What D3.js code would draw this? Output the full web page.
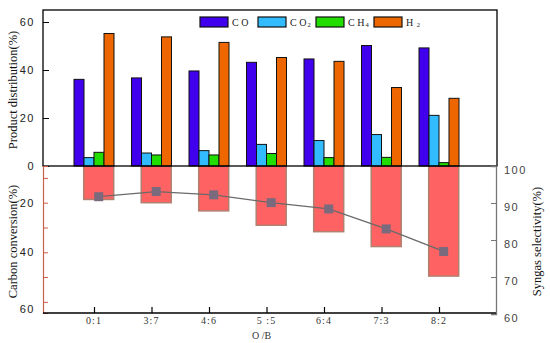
<!DOCTYPE html>
<html>
<head>
<meta charset="utf-8">
<script src="https://cdn.jsdelivr.net/npm/d3@7"></script>
<style>
  body { margin: 0; background: #fff; }
  svg { display: block; font-family: "Liberation Serif", "Times New Roman", serif; }
</style>
</head>
<body>
<svg id="chart" width="550" height="343"></svg>
<script>
// categories (O/B ratio)
const ratios = ["0:1", "3:7", "4:6", "5 :5", "6:4", "7:3", "8:2"];

// product distribution (%)
const coVals  = [36.1, 36.7, 39.6, 43.2, 44.6, 50.2, 49.2];
const co2Vals = [3.5, 5.4, 6.4, 9.0, 10.6, 13.1, 21.1];
const ch4Vals = [5.7, 4.6, 4.6, 5.2, 3.5, 3.6, 1.4];
const h2Vals  = [55.2, 53.8, 51.5, 45.2, 43.6, 32.7, 28.2];

// carbon conversion (%) and syngas selectivity (%)
const conversion  = [18.7, 20.0, 23.3, 29.1, 31.7, 37.7, 49.6];
const selectivity = [91.7, 93.1, 92.2, 90.1, 88.4, 83.0, 76.9];

const seriesNames = ["CO", "CO2", "CH4", "H2"];
const seriesVals = [coVals, co2Vals, ch4Vals, h2Vals];
const seriesColors = ["#4000ee", "#33bbff", "#22dd00", "#ee6600"];

const topTicks = [0, 20, 40, 60];
const convTicks = [10, 20, 30, 40, 50, 60];
const convLabels = [20, 40, 60];
const selTicks = [60, 70, 80, 90, 100];

const svg = d3.select("#chart");
const mLeft = 43, mRight = 496, mTop = 10, mMid = 166, mBottom = 313;

// x positions of the categories
const x = d3.scalePoint().domain(ratios).range([mLeft + 51, mRight - 57]);
const xs = d3.scaleBand().domain(seriesNames).range([-20, 20]);
const shift = 4.7; // lower bars & line sit slightly right of the tick

// top panel scale
const yTop = d3.scaleLinear().domain([0, 60]).range([mMid, mMid - 144]);
// bottom-left scale (carbon conversion, inverted)
const yConv = d3.scaleLinear().domain([5.2, 64.5]).range([mMid, mBottom]);
// bottom-right scale (syngas selectivity)
const ySel = d3.scaleLinear().domain([60, 100]).range([mBottom + 1, mMid]);

// ---- lower panel: conversion bars
svg.append("g").selectAll("rect")
  .data(conversion)
  .enter()
  .append("rect")
  .attr("x", (d, i) => x(ratios[i]) + shift - 15)
  .attr("y", yConv(yConv.domain()[0]))
  .attr("width", 30)
  .attr("height", d => yConv(d) - yConv(yConv.domain()[0]))
  .attr("fill", "#ff6262")
  .attr("stroke", "#b08070")
  .attr("stroke-width", 1.5);

// selectivity line
const line = d3.line()
  .x((d, i) => x(ratios[i]) + shift)
  .y(d => ySel(d));
svg.append("path")
  .datum(selectivity)
  .attr("d", line)
  .attr("fill", "none")
  .attr("stroke", "#6a6a6a")
  .attr("stroke-width", 1.3);
svg.append("g").selectAll("rect")
  .data(selectivity)
  .enter()
  .append("rect")
  .attr("x", (d, i) => x(ratios[i]) + shift - 4.5)
  .attr("y", d => ySel(d) - 4.5)
  .attr("width", 9)
  .attr("height", 9)
  .attr("fill", "#7a6a7e");

// ---- top panel bars
seriesNames.forEach((name, s) => {
  svg.append("g").selectAll("rect")
    .data(seriesVals[s])
    .enter()
    .append("rect")
    .attr("x", (d, i) => x(ratios[i]) + xs(name))
    .attr("y", d => yTop(d))
    .attr("width", xs.bandwidth())
    .attr("height", d => yTop(0) - yTop(d))
    .attr("fill", seriesColors[s])
    .attr("stroke", "#111")
    .attr("stroke-width", 1);
});

// top frame
svg.append("rect")
  .attr("x", mLeft).attr("y", mTop)
  .attr("width", mRight - mLeft + 1).attr("height", mMid - mTop)
  .attr("fill", "none").attr("stroke", "#000").attr("stroke-width", 1.3);

// top-left axis
const axTop = svg.append("g")
  .attr("transform", `translate(${mLeft},0)`)
  .call(d3.axisRight(yTop).tickValues(topTicks).tickSize(6).tickFormat(d3.format("d")));
axTop.select(".domain").remove();
axTop.selectAll("text").attr("x", -8).attr("text-anchor", "end")
  .attr("font-size", 11).attr("letter-spacing", 1.5).attr("fill", "#222");
axTop.selectAll("line").attr("stroke", "#000");

// bottom-left axis (conversion)
const axConv = svg.append("g")
  .attr("transform", `translate(${mLeft},0)`)
  .call(d3.axisRight(yConv).tickValues(convTicks).tickSize(5)
    .tickFormat(d => convLabels.includes(d) ? d : ""));
axConv.select(".domain").attr("stroke", "#c8604a").attr("stroke-width", 1.2);
axConv.selectAll("line").attr("stroke", "#c8604a");
axConv.selectAll("text").attr("x", -8).attr("text-anchor", "end")
  .attr("font-size", 11).attr("letter-spacing", 1.5).attr("fill", "#222");
// the "60" label sits at the foot of the axis in the original
axConv.selectAll(".tick").filter(d => d === 60).select("text").attr("dy", "1.0em");

// right axis (selectivity)
const axSel = svg.append("g")
  .attr("transform", `translate(${mRight},0)`)
  .call(d3.axisLeft(ySel).tickValues(selTicks).tickSize(5));
axSel.select(".domain").attr("stroke", "#777").attr("stroke-width", 1.3);
axSel.selectAll("line").attr("stroke", "#777");
axSel.selectAll("text").attr("x", 8).attr("dy", "0.65em").attr("text-anchor", "start")
  .attr("font-size", 11).attr("letter-spacing", 1.5).attr("fill", "#444");

// bottom x axis
const axX = svg.append("g")
  .attr("transform", `translate(0,${mBottom})`)
  .call(d3.axisTop(x).tickSize(6).tickFormat(""));
axX.select(".domain").attr("d", `M${mLeft},0H${mRight}`).attr("stroke", "#000").attr("stroke-width", 1.3);
axX.selectAll("line").attr("stroke", "#000").attr("stroke-width", 1.2);
svg.append("g").selectAll("text")
  .data(ratios)
  .enter()
  .append("text")
  .attr("x", d => x(d))
  .attr("y", mBottom + 11)
  .attr("text-anchor", "middle")
  .attr("font-size", 10)
  .attr("letter-spacing", 1)
  .attr("fill", "#333")
  .text(d => d);

// axis titles
svg.append("text")
  .attr("transform", `translate(17,${(mTop + mMid) / 2 + 2}) rotate(-90)`)
  .attr("text-anchor", "middle").attr("font-size", 12.5).attr("fill", "#111")
  .text("Product distribution(%)");
svg.append("text")
  .attr("transform", `translate(17,${(mMid + mBottom) / 2 + 2}) rotate(-90)`)
  .attr("text-anchor", "middle").attr("font-size", 12.5).attr("fill", "#111")
  .text("Carbon conversion(%)");
svg.append("text")
  .attr("transform", `translate(541,${(mMid + mBottom) / 2 + 2}) rotate(-90)`)
  .attr("text-anchor", "middle").attr("font-size", 12.5).attr("fill", "#111")
  .text("Syngas selectivity(%)");
svg.append("text")
  .attr("x", (mLeft + mRight) / 2 - 8).attr("y", 339)
  .attr("text-anchor", "middle").attr("font-size", 10).attr("fill", "#333")
  .text("O /B");

// legend
const legendLabels = [
  ["C O", ""], ["C O", "2"], ["C H", "4"], ["H ", "2"]
];
const legend = svg.append("g").attr("transform", "translate(200,17)");
const legendX = d3.scalePoint().domain(seriesNames).range([0, 174]);
seriesNames.forEach((name, s) => {
  const g = legend.append("g").attr("transform", `translate(${legendX(name)},0)`);
  g.append("rect").attr("width", 28).attr("height", 10)
    .attr("fill", seriesColors[s]).attr("stroke", "#111").attr("stroke-width", 1.2);
  const t = g.append("text").attr("x", 32).attr("y", 9).attr("font-size", 10)
    .attr("fill", "#222");
  t.append("tspan").text(legendLabels[s][0]);
  if (legendLabels[s][1]) {
    t.append("tspan").attr("font-size", 6.5).attr("dy", 1).attr("dx", 1).text(legendLabels[s][1]);
  }
});
</script>
</body>
</html>
